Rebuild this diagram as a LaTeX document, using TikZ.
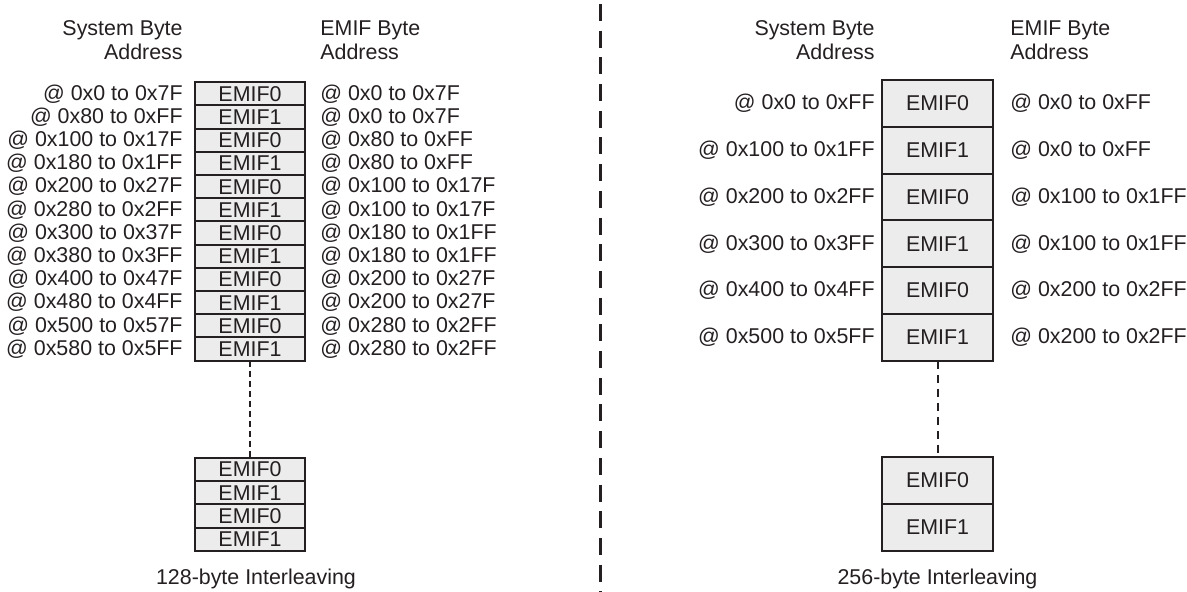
\documentclass[tikz,border=0pt]{standalone}
\usepackage{fontspec}
\setmainfont{Liberation Sans}
\usetikzlibrary{positioning}
\definecolor{tinta}{rgb}{0.14, 0.12, 0.13}
\definecolor{grisclaro}{rgb}{0.925, 0.925, 0.925}
\tikzset{
  celda/.style={
    draw=tinta,
    fill=grisclaro,
    line width=1pt,
    minimum width=55pt,
    minimum height=11.6pt,
    inner sep=0pt,
    outer sep=0pt,
    text=tinta
  },
  celdagrande/.style={
    celda,
    minimum width=55.5pt,
    minimum height=23.4pt
  },
  dir/.style={
    inner sep=0pt,
    text=tinta
  },
  puntos/.style={
    draw=tinta,
    line width=1pt,
    dash pattern=on 3pt off 2pt
  },
  divisor/.style={
    draw=tinta,
    line width=1.5pt,
    dash pattern=on 8.5pt off 4.85pt,
    dash phase=11.35pt
  }
}

\begin{document}
\begin{tikzpicture}[x=0.5pt, y=-0.5pt, node distance=0pt, font=\fontsize{10.7}{12}\selectfont]
\useasboundingbox (0,0) rectangle (1187,592);

% 128-byte interleaving
\node[dir, anchor=north east, align=right] (hsa) at (183,20) {System Byte\\Address};
\node[dir, anchor=north west, align=left] (hea) at (320,20) {EMIF Byte\\Address};
\node[celda] (a1) at (250,93.9) {EMIF0};
\foreach \i/\j/\t in {2/1/EMIF1, 3/2/EMIF0, 4/3/EMIF1, 5/4/EMIF0, 6/5/EMIF1,
  7/6/EMIF0, 8/7/EMIF1, 9/8/EMIF0, 10/9/EMIF1, 11/10/EMIF0, 12/11/EMIF1}
  \node[celda, below=of a\j] (a\i) {\t};
\foreach \i/\s/\e in {1/{@ 0x0 to 0x7F}/{@ 0x0 to 0x7F},
  2/{@ 0x80 to 0xFF}/{@ 0x0 to 0x7F},
  3/{@ 0x100 to 0x17F}/{@ 0x80 to 0xFF},
  4/{@ 0x180 to 0x1FF}/{@ 0x80 to 0xFF},
  5/{@ 0x200 to 0x27F}/{@ 0x100 to 0x17F},
  6/{@ 0x280 to 0x2FF}/{@ 0x100 to 0x17F},
  7/{@ 0x300 to 0x37F}/{@ 0x180 to 0x1FF},
  8/{@ 0x380 to 0x3FF}/{@ 0x180 to 0x1FF},
  9/{@ 0x400 to 0x47F}/{@ 0x200 to 0x27F},
  10/{@ 0x480 to 0x4FF}/{@ 0x200 to 0x27F},
  11/{@ 0x500 to 0x57F}/{@ 0x280 to 0x2FF},
  12/{@ 0x580 to 0x5FF}/{@ 0x280 to 0x2FF}} {
  \node[dir, left=6pt of a\i] (sa\i) {\s};
  \node[dir, right=7.5pt of a\i] (ea\i) {\e};
}
\node[celda] (a13) at (250,469.6) {EMIF0};
\node[celda, below=of a13] (a14) {EMIF1};
\node[celda, below=of a14] (a15) {EMIF0};
\node[celda, below=of a15] (a16) {EMIF1};
\draw[puntos] (a12) -- (a13);
\node[dir, below=9pt of a16, xshift=3pt] (ta) {128-byte Interleaving};

% divider
\coordinate (arriba) at (600,0);
\coordinate (abajo) at (600,592);
\draw[divisor] (arriba) -- (abajo);

% 256-byte interleaving
\node[dir, anchor=north east, align=right] (hsb) at (875,20) {System Byte\\Address};
\node[dir, anchor=north west, align=left] (heb) at (1010,20) {EMIF Byte\\Address};
\node[celdagrande] (b1) at (937.5,103.4) {EMIF0};
\foreach \i/\j/\t in {2/1/EMIF1, 3/2/EMIF0, 4/3/EMIF1, 5/4/EMIF0, 6/5/EMIF1}
  \node[celdagrande, below=of b\j] (b\i) {\t};
\foreach \i/\s/\e in {1/{@ 0x0 to 0xFF}/{@ 0x0 to 0xFF},
  2/{@ 0x100 to 0x1FF}/{@ 0x0 to 0xFF},
  3/{@ 0x200 to 0x2FF}/{@ 0x100 to 0x1FF},
  4/{@ 0x300 to 0x3FF}/{@ 0x100 to 0x1FF},
  5/{@ 0x400 to 0x4FF}/{@ 0x200 to 0x2FF},
  6/{@ 0x500 to 0x5FF}/{@ 0x200 to 0x2FF}} {
  \node[dir, left=3.5pt of b\i] (sb\i) {\s};
  \node[dir, right=8.5pt of b\i] (eb\i) {\e};
}
\node[celdagrande] (b7) at (937.5,480.4) {EMIF0};
\node[celdagrande, below=of b7] (b8) {EMIF1};
\draw[puntos, dash pattern=on 4pt off 3pt] (b6) -- (b7);
\node[dir, below=9pt of b8] (tb) {256-byte Interleaving};
\end{tikzpicture}
\end{document}
